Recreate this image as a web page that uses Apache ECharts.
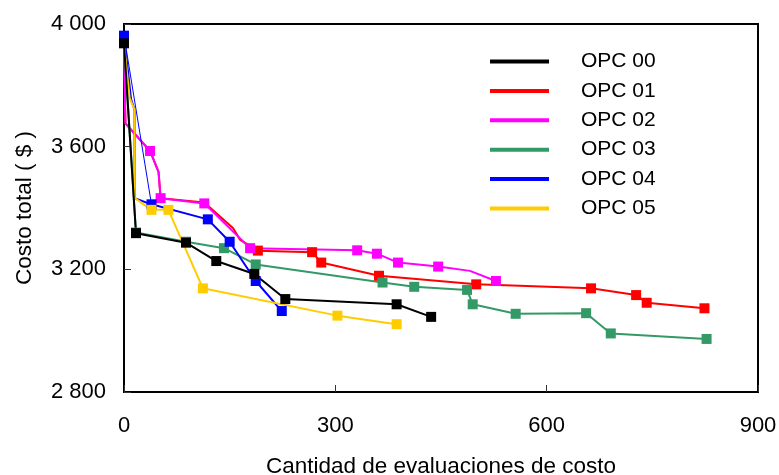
<!DOCTYPE html>
<html>
<head>
<meta charset="utf-8">
<script src="https://cdn.jsdelivr.net/npm/echarts@6/dist/echarts.min.js"></script>
<style>
html,body{margin:0;padding:0;background:#fff;}
#chart{width:779px;height:475px;}
</style>
</head>
<body>
<div id="chart"></div>
<script>
// tick values
var xTicks=[0,300,600,900];
var yTicks=[2800,3200,3600,4000];

// series names
var names=['OPC 00','OPC 01','OPC 02','OPC 03','OPC 04','OPC 05'];

// points [x, y]; *Marked = indices of points drawn with a square
var opc00=[[0,3937],[17,3318],[88,3287],[131,3227],[185,3185],[229,3103],[387,3086],[436,3045]];
var opc00Marked=[0,1,2,3,4,5,6,7];

var opc01=[[0,3937],[2,3676],[37,3586],[49,3518],[52,3432],[114,3418],[155,3334],[165,3296],
           [190,3261],[267,3256],[280,3222],[362,3179],[500,3151],[663,3138],[727,3116],[742,3091],[824,3073]];
var opc01Marked=[8,9,10,11,12,13,14,15,16];

var opc02=[[0,3937],[2,3676],[37,3586],[49,3518],[52,3432],[114,3415],[179,3269],[331,3262],
           [359,3251],[389,3222],[446,3209],[491,3195],[528,3162]];
var opc02Marked=[2,4,5,6,7,8,9,10,12];

var opc03=[[0,3937],[17,3320],[88,3290],[142,3269],[187,3216],[367,3157],[412,3143],[487,3133],
           [495,3086],[556,3055],[656,3057],[691,2991],[827,2973]];
var opc03Marked=[1,2,3,4,5,6,7,8,9,10,11,12];

var opc04=[[0,3962],[10,3755],[15,3720],[15,3432],[39,3412],[119,3363],[150,3290],[187,3162],[224,3064]];
var opc04Marked=[0,4,5,6,7,8];
var opc04Thin=[[0,3962],[39,3412]];

var opc05=[[0,3937],[8,3759],[15,3721],[15,3433],[39,3394],[63,3394],[112,3138],[303,3049],[387,3021]];
var opc05Marked=[4,5,6,7,8];

var colors={'OPC 00':'#000000','OPC 01':'#ff0000','OPC 02':'#ff00ff','OPC 03':'#339966','OPC 04':'#0000ff','OPC 05':'#ffcc00'};
var font='"Liberation Sans", Arial, sans-serif';

function pts(list,marked){
	var out=[];
	for(var i=0;i<list.length;i++){
		var item={value:list[i]};
		if(marked.indexOf(i)<0){ item.symbol='none'; }
		out.push(item);
	}
	return out;
}
function lineSeries(name,list,marked){
	return {
		name:name,
		type:'line',
		data:pts(list,marked),
		symbol:'rect',
		symbolSize:10,
		lineStyle:{color:colors[name],width:2},
		itemStyle:{color:colors[name]},
		emphasis:{disabled:true}
	};
}
function spaced(v){
	return String(v).replace(/\B(?=(\d{3})+(?!\d))/g,' ');
}

var option={
	animation:false,
	backgroundColor:'#fff',
	textStyle:{fontFamily:font},
	grid:{left:124,right:21,top:24,bottom:83,show:true,borderColor:'#000',borderWidth:2,
		containLabel:false,outerBoundsMode:'none'},
	legend:{
		data:names,
		orient:'vertical',
		left:485,
		top:46,
		icon:'rect',
		itemWidth:59,
		itemHeight:4,
		itemGap:8.4,
		textStyle:{fontFamily:font,fontSize:21,color:'#000',lineHeight:21,padding:[0,0,0,27]}
	},
	xAxis:{
		type:'value',
		min:xTicks[0],
		max:xTicks[xTicks.length-1],
		interval:xTicks[1]-xTicks[0],
		name:'Cantidad de evaluaciones de costo',
		nameLocation:'middle',
		nameGap:63,
		nameTextStyle:{fontFamily:font,fontSize:22.5,color:'#000'},
		axisLine:{lineStyle:{color:'#000',width:2}},
		axisTick:{inside:true,length:7,lineStyle:{color:'#333',width:1}},
		axisLabel:{fontFamily:font,fontSize:22,color:'#000',margin:23,formatter:spaced},
		splitLine:{show:false}
	},
	yAxis:{
		type:'value',
		min:yTicks[0],
		max:yTicks[yTicks.length-1],
		interval:yTicks[1]-yTicks[0],
		name:'Costo total ( $ )',
		nameLocation:'middle',
		nameGap:88,
		nameTextStyle:{fontFamily:font,fontSize:22.5,color:'#000'},
		axisLine:{lineStyle:{color:'#000',width:2}},
		axisTick:{inside:true,length:7,lineStyle:{color:'#333',width:1}},
		axisLabel:{fontFamily:font,fontSize:22,color:'#000',margin:18,formatter:spaced},
		splitLine:{show:false}
	},
	series:[
		lineSeries('OPC 01',opc01,opc01Marked),
		lineSeries('OPC 02',opc02,opc02Marked),
		lineSeries('OPC 03',opc03,opc03Marked),
		{
			name:'OPC 04 tramo',
			type:'line',
			data:opc04Thin,
			symbol:'none',
			lineStyle:{color:'#0000ff',width:1},
			emphasis:{disabled:true}
		},
		lineSeries('OPC 04',opc04,opc04Marked),
		lineSeries('OPC 05',opc05,opc05Marked),
		lineSeries('OPC 00',opc00,opc00Marked)
	]
};

var mychart=echarts.init(document.getElementById('chart'));
mychart.setOption(option);
</script>
</body>
</html>
